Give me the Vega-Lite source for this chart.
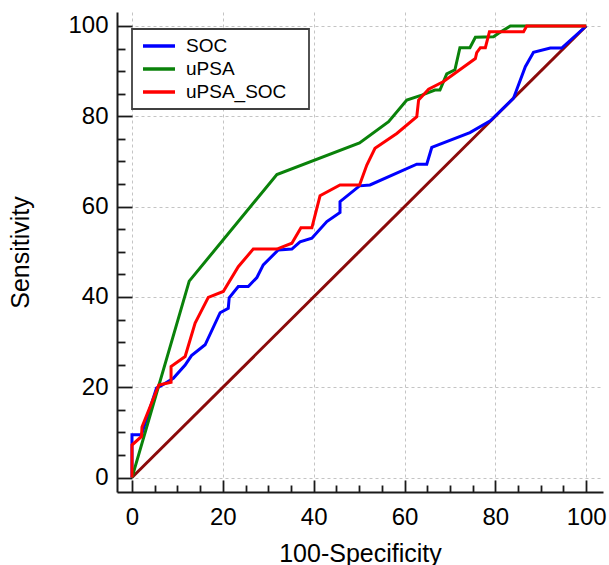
{
  "$schema": "https://vega.github.io/schema/vega-lite/v6.json",
  "width": 486,
  "height": 480,
  "autosize": "none",
  "padding": {"left": 117, "top": 12, "right": 6, "bottom": 73},
  "config": {"view": {"stroke": null}, "font": "Liberation Sans", "background": "white"},
  "datasets": {
    "diag": [{"x": 0, "y": 0}, {"x": 100, "y": 100}],
    "roc": [
      {"series": "SOC", "i": 1, "x": 0, "y": 0},
      {"series": "SOC", "i": 2, "x": 0, "y": 9.5},
      {"series": "SOC", "i": 3, "x": 2.1, "y": 9.5},
      {"series": "SOC", "i": 4, "x": 5.4, "y": 19.8},
      {"series": "SOC", "i": 5, "x": 6.5, "y": 20.4},
      {"series": "SOC", "i": 6, "x": 9.1, "y": 22.0},
      {"series": "SOC", "i": 7, "x": 11.7, "y": 24.9},
      {"series": "SOC", "i": 8, "x": 13.1, "y": 27.0},
      {"series": "SOC", "i": 9, "x": 16.1, "y": 29.4},
      {"series": "SOC", "i": 10, "x": 19.4, "y": 36.5},
      {"series": "SOC", "i": 11, "x": 21.2, "y": 37.5},
      {"series": "SOC", "i": 12, "x": 21.4, "y": 39.8},
      {"series": "SOC", "i": 13, "x": 23.4, "y": 42.3},
      {"series": "SOC", "i": 14, "x": 25.6, "y": 42.3},
      {"series": "SOC", "i": 15, "x": 27.5, "y": 44.3},
      {"series": "SOC", "i": 16, "x": 28.9, "y": 47.1},
      {"series": "SOC", "i": 17, "x": 32.2, "y": 50.4},
      {"series": "SOC", "i": 18, "x": 35.2, "y": 50.6},
      {"series": "SOC", "i": 19, "x": 37.0, "y": 52.2},
      {"series": "SOC", "i": 20, "x": 39.6, "y": 53.0},
      {"series": "SOC", "i": 21, "x": 42.9, "y": 56.7},
      {"series": "SOC", "i": 22, "x": 45.8, "y": 58.7},
      {"series": "SOC", "i": 23, "x": 45.8, "y": 61.1},
      {"series": "SOC", "i": 24, "x": 50.1, "y": 64.6},
      {"series": "SOC", "i": 25, "x": 52.4, "y": 64.8},
      {"series": "SOC", "i": 26, "x": 62.7, "y": 69.4},
      {"series": "SOC", "i": 27, "x": 64.9, "y": 69.4},
      {"series": "SOC", "i": 28, "x": 66.0, "y": 73.1},
      {"series": "SOC", "i": 29, "x": 74.4, "y": 76.4},
      {"series": "SOC", "i": 30, "x": 78.9, "y": 79.0},
      {"series": "SOC", "i": 31, "x": 84.0, "y": 84.0},
      {"series": "SOC", "i": 32, "x": 86.6, "y": 91.0},
      {"series": "SOC", "i": 33, "x": 88.4, "y": 94.2},
      {"series": "SOC", "i": 34, "x": 92.1, "y": 95.1},
      {"series": "SOC", "i": 35, "x": 94.6, "y": 95.1},
      {"series": "SOC", "i": 36, "x": 100, "y": 100},
      {"series": "uPSA", "i": 1, "x": 0, "y": 0},
      {"series": "uPSA", "i": 2, "x": 12.6, "y": 43.5},
      {"series": "uPSA", "i": 3, "x": 31.9, "y": 67.1},
      {"series": "uPSA", "i": 4, "x": 50.1, "y": 74.1},
      {"series": "uPSA", "i": 5, "x": 56.5, "y": 78.8},
      {"series": "uPSA", "i": 6, "x": 60.5, "y": 83.6},
      {"series": "uPSA", "i": 7, "x": 63.8, "y": 84.7},
      {"series": "uPSA", "i": 8, "x": 66.7, "y": 85.8},
      {"series": "uPSA", "i": 9, "x": 67.8, "y": 85.8},
      {"series": "uPSA", "i": 10, "x": 69.3, "y": 89.4},
      {"series": "uPSA", "i": 11, "x": 71.1, "y": 90.3},
      {"series": "uPSA", "i": 12, "x": 72.2, "y": 95.2},
      {"series": "uPSA", "i": 13, "x": 74.4, "y": 95.2},
      {"series": "uPSA", "i": 14, "x": 75.6, "y": 97.5},
      {"series": "uPSA", "i": 15, "x": 79.6, "y": 97.6},
      {"series": "uPSA", "i": 16, "x": 80.7, "y": 98.4},
      {"series": "uPSA", "i": 17, "x": 83.3, "y": 100},
      {"series": "uPSA", "i": 18, "x": 100, "y": 100},
      {"series": "uPSA_SOC", "i": 1, "x": 0, "y": 0},
      {"series": "uPSA_SOC", "i": 2, "x": 0, "y": 7.2},
      {"series": "uPSA_SOC", "i": 3, "x": 2.1, "y": 9.1},
      {"series": "uPSA_SOC", "i": 4, "x": 2.2, "y": 11.2},
      {"series": "uPSA_SOC", "i": 5, "x": 5.9, "y": 20.5},
      {"series": "uPSA_SOC", "i": 6, "x": 8.6, "y": 21.1},
      {"series": "uPSA_SOC", "i": 7, "x": 8.6, "y": 24.6},
      {"series": "uPSA_SOC", "i": 8, "x": 11.7, "y": 26.8},
      {"series": "uPSA_SOC", "i": 9, "x": 13.9, "y": 34.2},
      {"series": "uPSA_SOC", "i": 10, "x": 16.8, "y": 39.9},
      {"series": "uPSA_SOC", "i": 11, "x": 20.1, "y": 41.2},
      {"series": "uPSA_SOC", "i": 12, "x": 23.4, "y": 46.7},
      {"series": "uPSA_SOC", "i": 13, "x": 26.7, "y": 50.6},
      {"series": "uPSA_SOC", "i": 14, "x": 31.9, "y": 50.6},
      {"series": "uPSA_SOC", "i": 15, "x": 35.2, "y": 51.9},
      {"series": "uPSA_SOC", "i": 16, "x": 37.2, "y": 55.3},
      {"series": "uPSA_SOC", "i": 17, "x": 39.6, "y": 55.3},
      {"series": "uPSA_SOC", "i": 18, "x": 41.4, "y": 62.4},
      {"series": "uPSA_SOC", "i": 19, "x": 45.8, "y": 64.8},
      {"series": "uPSA_SOC", "i": 20, "x": 50.1, "y": 64.8},
      {"series": "uPSA_SOC", "i": 21, "x": 51.7, "y": 69.2},
      {"series": "uPSA_SOC", "i": 22, "x": 53.5, "y": 72.9},
      {"series": "uPSA_SOC", "i": 23, "x": 58.3, "y": 76.2},
      {"series": "uPSA_SOC", "i": 24, "x": 62.7, "y": 79.9},
      {"series": "uPSA_SOC", "i": 25, "x": 63.1, "y": 83.6},
      {"series": "uPSA_SOC", "i": 26, "x": 65.3, "y": 86.0},
      {"series": "uPSA_SOC", "i": 27, "x": 68.6, "y": 87.7},
      {"series": "uPSA_SOC", "i": 28, "x": 75.6, "y": 92.8},
      {"series": "uPSA_SOC", "i": 29, "x": 75.9, "y": 94.1},
      {"series": "uPSA_SOC", "i": 30, "x": 76.7, "y": 95.2},
      {"series": "uPSA_SOC", "i": 31, "x": 77.8, "y": 95.2},
      {"series": "uPSA_SOC", "i": 32, "x": 78.7, "y": 98.7},
      {"series": "uPSA_SOC", "i": 33, "x": 86.2, "y": 98.7},
      {"series": "uPSA_SOC", "i": 34, "x": 86.9, "y": 100},
      {"series": "uPSA_SOC", "i": 35, "x": 100, "y": 100}
    ]
  },
  "encoding": {
    "x": {
      "field": "x", "type": "quantitative",
      "scale": {"domain": [-3.3, 103.7], "nice": false, "zero": false},
      "axis": {
        "title": "100-Specificity",
        "values": [0,5,10,15,20,25,30,35,40,45,50,55,60,65,70,75,80,85,90,95,100],
        "labelExpr": "datum.value % 20 === 0 ? datum.label : ''",
        "labelOverlap": false, "labelFlush": false,
        "labelFont": "Liberation Sans", "labelFontSize": 24, "labelColor": "black", "labelPadding": 25,
        "titleFont": "Liberation Sans", "titleFontSize": 25, "titleFontWeight": "normal", "titleColor": "black", "titlePadding": 7,
        "domainColor": "#1a1a1a", "domainWidth": 2,
        "tickColor": "#1a1a1a", "tickWidth": 1.8,
        "tickSize": {"condition": {"test": "datum.value % 20 === 0", "value": -12}, "value": -7},
        "grid": true, "gridColor": "#c4c4c4", "gridDash": [3, 3], "gridWidth": 1,
        "gridOpacity": {"condition": {"test": "datum.value % 20 === 0", "value": 1}, "value": 0}
      }
    },
    "y": {
      "field": "y", "type": "quantitative",
      "scale": {"domain": [-3.2, 103.1], "nice": false, "zero": false},
      "axis": {
        "title": "Sensitivity",
        "values": [0,5,10,15,20,25,30,35,40,45,50,55,60,65,70,75,80,85,90,95,100],
        "labelExpr": "datum.value % 20 === 0 ? datum.label : ''",
        "labelOverlap": false, "labelFlush": false,
        "labelFont": "Liberation Sans", "labelFontSize": 24, "labelColor": "black", "labelPadding": 24,
        "titleFont": "Liberation Sans", "titleFontSize": 25, "titleFontWeight": "normal", "titleColor": "black", "titlePadding": 34,
        "domainColor": "#1a1a1a", "domainWidth": 2,
        "tickColor": "#1a1a1a", "tickWidth": 1.8,
        "tickSize": {"condition": {"test": "datum.value % 20 === 0", "value": -15}, "value": -8},
        "grid": true, "gridColor": "#c4c4c4", "gridDash": [3, 3], "gridWidth": 1,
        "gridOpacity": {"condition": {"test": "datum.value % 20 === 0", "value": 1}, "value": 0}
      }
    }
  },
  "layer": [
    {
      "data": {"name": "diag"},
      "mark": {"type": "line", "color": "#8b0a0a", "strokeWidth": 3}
    },
    {
      "data": {"name": "roc"},
      "mark": {"type": "line", "strokeWidth": 3},
      "encoding": {
        "order": {"field": "i", "type": "quantitative"},
        "color": {
          "field": "series", "type": "nominal",
          "scale": {"domain": ["SOC", "uPSA", "uPSA_SOC"], "range": ["#0000ff", "#0a820a", "#ff0000"]},
          "legend": {
            "orient": "none", "legendX": 15, "legendY": 17, "title": null,
            "symbolType": "stroke", "symbolSize": 1024, "symbolStrokeWidth": 3.5,
            "labelFont": "Liberation Sans", "labelFontSize": 19, "labelColor": "black", "labelOffset": 9,
            "labelExpr": "datum.label + '\u00a0\u00a0\u00a0\u200b'",
            "padding": 6, "symbolOffset": 3, "clipHeight": 22, "rowPadding": 1,
            "strokeColor": "#404040", "fillColor": "white",
            "encode": {"legend": {"update": {"strokeWidth": {"value": 1.8}}}}
          }
        }
      }
    }
  ]
}
